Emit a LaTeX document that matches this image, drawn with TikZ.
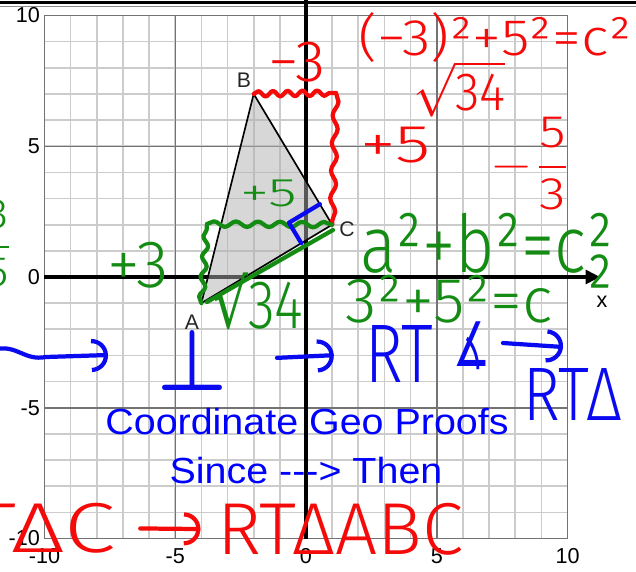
\documentclass[tikz,border=0pt]{standalone}
\usepackage{fontspec}
\usepackage{amsmath}
\usepackage{graphicx}
\usepackage{tikz}
\usetikzlibrary{arrows.meta, calc, decorations.pathmorphing}
\setmainfont{Liberation Sans}
\newfontfamily\handfont{Fira Sans Light}
\newfontfamily\symbfont{DejaVu Sans}
\definecolor{inkred}{RGB}{245, 10, 10}
\definecolor{inkgreen}{RGB}{20, 140, 20}
\definecolor{inkblue}{RGB}{10, 10, 240}
\definecolor{printblue}{RGB}{0, 0, 255}
\newlength{\pxu}
\setlength{\pxu}{0.038241cm}
\newcommand{\handw}[3]{\resizebox*{#1\pxu}{#2\pxu}{#3}}

\begin{document}
\begin{tikzpicture}[x=0.038241cm, y=-0.038241cm,
    minor/.style={draw=black!20, line width=1.8pt},
    major/.style={draw=black!55, line width=1.6pt},
    axis/.style={line width=4.3pt},
    tick/.style={font=\fontsize{23.5}{24}\selectfont, inner sep=0pt},
    ptlabel/.style={font=\fontsize{23}{24}\selectfont, text=black!85, inner sep=0pt},
    ink/.style={line width=4.6pt, line cap=round, line join=round},
    wavy/.style={decorate, decoration={snake, amplitude=3pt, segment length=#1}},
    hw/.style={font=\handfont, inner sep=0pt, anchor=north west},
    printed/.style={font=\fontsize{39.5}{40}\selectfont, text=printblue, inner sep=0pt, anchor=base},
    inkarrow/.style={-{Arc Barb[length=18pt, width=36pt]}}]

    \useasboundingbox (0,0) rectangle (636,571);
    \clip (0,0) rectangle (636,571);
    \draw[line width=2.6pt] (0,2.5) -- (636,2.5);
    \draw[black!45, line width=1pt] (0,6) -- (636,6);

    % Grid, axes and triangle ABC
    \begin{scope}[shift={(306,277)}, x=1cm, y=1cm]
        \draw[minor] (-10,-10) grid (10,10);
        \draw[major] (-10,-10) grid[step=5] (10,10);
        \draw[axis, -{Triangle[length=16pt, width=15pt]}] (-10,0) -- (11.25,0);
        \draw[axis] (0,-10) -- (0,11);
        \foreach \k in {-10,-5,0,5,10} {
            \node[tick, anchor=east] (ly\k) at (-10.17,\k) {\k};
            \node[tick] (lx\k) at (\k,-10.68) {\k};
        }
        \node[tick] (xlab) at (11.32,-0.96) {x};

        \coordinate (A) at (-4,-1);
        \coordinate (B) at (-2,7);
        \coordinate (C) at (1,2);
        \filldraw[fill=black!31, fill opacity=0.5, line width=1.8pt, line join=round] (A) -- (B) -- (C) -- cycle;
        \node[ptlabel] (labA) at (-4.36,-1.72) {A};
        \node[ptlabel] (labB) at (-2.37,7.53) {B};
        \node[ptlabel] (labC) at (1.57,1.84) {C};
    \end{scope}

    % Red working
    \coordinate (rk) at (336,93);
    \draw[ink, inkred, wavy=16pt] (B) -- (rk);
    \draw[ink, inkred, wavy=30pt] (rk) -- (C);
    \node[hw, text=inkred] (mthree) at (268,42) {\handw{57}{40}{−3}};
    \node[hw, text=inkred] (pfive) at (360,127) {\handw{70}{36}{+5}};
    \node[hw, text=inkred] (pyth) at (358,12) {\handw{274}{50}{(−3)²+5²=c²}};
    \node[hw, text=inkred] (root) at (413,61) {\handw{92}{56}{$\sqrt{\hbox{34}}$}};
    \node[hw, text=inkred] (slope) at (490,117) {\handw{82}{93}{$\displaystyle -\frac{\hbox{5}}{\hbox{3}}$}};
    \node[hw, text=inkred] (tac) at (-30,503) {\handw{145}{50}{TΔC}};
    \node[hw, text=inkred] (rtabc) at (217,503) {\handw{246}{52}{RTΔABC}};
    \draw[ink, inkred, inkarrow, shorten <=27pt, shorten >=18pt] (tac.east) -- (rtabc.west);

    % Green working
    \coordinate (gk) at (207,224);
    \draw[ink, inkgreen, wavy=22pt] (A) -- (gk);
    \draw[ink, inkgreen, wavy=24pt] (gk) -- (C);
    \coordinate (gl1) at (207,302);
    \coordinate (gl2) at (333,230);
    \draw[ink, inkgreen] (gl1) -- (gl2);
    \node[hw, text=inkgreen] (pthree) at (107,242) {\handw{61}{46}{+3}};
    \node[hw, text=inkgreen] (gfive) at (240,180) {\handw{57}{27}{+5}};
    \node[hw, text=inkgreen] (groot) at (213,273) {\handw{90}{57}{{\symbfont √}34}};
    \node[hw, text=inkgreen] (abc) at (360,213) {\handw{253}{75}{a²+b²=c\rlap{²}₂}};
    \node[hw, text=inkgreen] (nums) at (345,275) {\handw{207}{48}{3²+5²=c}};
    \node[hw, text=inkgreen] (gfrac) at (-20,200) {\handw{35}{87}{$\displaystyle\frac{\hbox{3}}{\hbox{5}}$}};

    % Blue working
    \coordinate (rb) at ($(C)!0.157!(B)$);
    \coordinate (ra) at ($(C)!0.236!(A)$);
    \draw[ink, inkblue] (rb) -- ($(rb)+(ra)-(C)$) -- (ra);
    \node[hw, text=inkblue] (perp) at (157,330) {\handw{70}{60}{$\boldsymbol{\perp}$}};
    \node[hw, text=inkblue] (rtang) at (365,325) {\handw{68}{57}{RT}};
    \node[hw, text=inkblue] (angsym) at (453,322) {\handw{37}{48}{\symbfont ∡}};
    \node[hw, text=inkblue] (rttri) at (523,368) {\handw{99}{52}{RTΔ}};
    \coordinate (wv) at (-4,349);
    \coordinate (wvtip) at (108,355);
    \draw[ink, inkblue, inkarrow] (wv) .. controls (18,345) and (24,361) .. (46,357) -- (wvtip);
    \draw[ink, inkblue, inkarrow, shorten <=54pt, shorten >=34pt] (perp.east) -- (rtang.west);
    \coordinate (tipa) at (503,343);
    \coordinate (tipb) at (563,347);
    \draw[ink, inkblue, inkarrow] (tipa) -- (tipb);

    % Printed title
    \node[printed] (title) at (307,434) {\scalebox{1.086}[1]{Coordinate Geo Proofs}};
    \node[printed] (since) at (306,483) {\scalebox{1.086}[1]{Since -\kern0pt-\kern0pt-\kern0pt> Then}};
\end{tikzpicture}
\end{document}
